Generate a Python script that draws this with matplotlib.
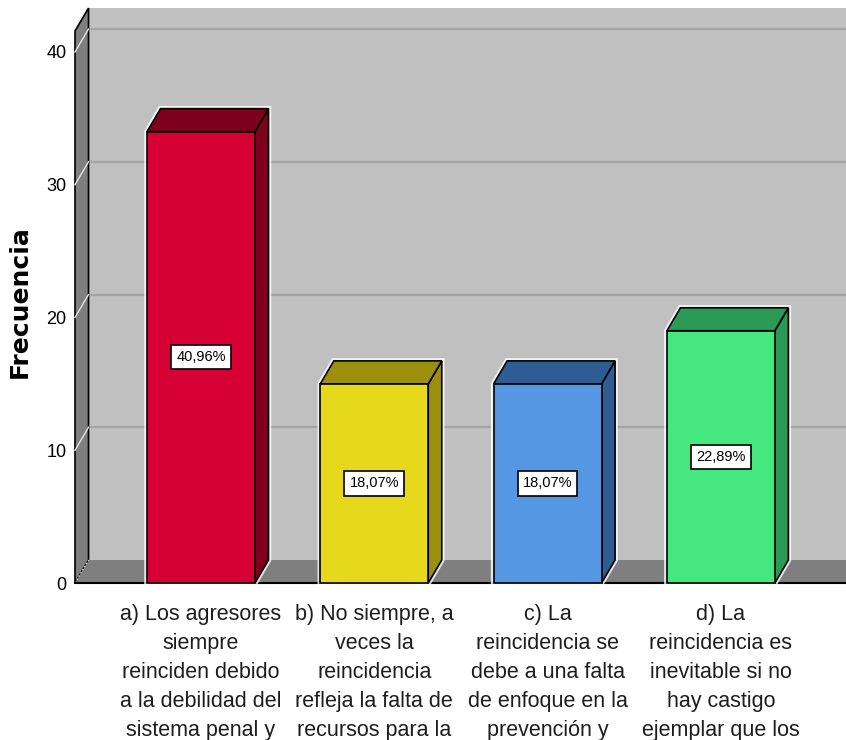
import matplotlib
matplotlib.use("Agg")
import matplotlib.pyplot as plt
from matplotlib.patches import Polygon

# data (frequencies, N = 83)
categorias = [
    "a) Los agresores\nsiempre\nreinciden debido\na la debilidad del\nsistema penal y",
    "b) No siempre, a\nveces la\nreincidencia\nrefleja la falta de\nrecursos para la",
    "c) La\nreincidencia se\ndebe a una falta\nde enfoque en la\nprevención y",
    "d) La\nreincidencia es\ninevitable si no\nhay castigo\nejemplar que los",
]
frecuencias = [34, 15, 15, 19]
porcentajes = ["40,96%", "18,07%", "18,07%", "22,89%"]
y_ticks = [0, 10, 20, 30, 40]

colores_frente = ["#d70035", "#e6d81a", "#5597e2", "#44e87e"]
colores_lado = ["#7e001e", "#9c8f0e", "#2f5c92", "#2a9a56"]

narrow = ["Liberation Sans", "DejaVu Sans"]

fig = plt.figure(figsize=(8.46, 7.40), dpi=100)
ax = fig.add_axes([75 / 846, 157 / 740, 758 / 846, 552 / 740])

xmin, xmax = -0.727, 3.647
ymax = 41.58
dx, dy = 0.078, 1.73   # depth offset of the 3D look
ancho = 0.623

ax.set_xlim(xmin, xmax)
ax.set_ylim(0, ymax)

# back wall
ax.add_patch(Polygon([(xmin + dx, dy), (xmax + dx, dy), (xmax + dx, ymax + dy), (xmin + dx, ymax + dy)],
                     closed=True, facecolor="#c0c0c0", edgecolor="none", clip_on=False, zorder=0))
# left wall
ax.add_patch(Polygon([(xmin, 0), (xmin + dx, dy), (xmin + dx, ymax + dy), (xmin, ymax)],
                     closed=True, facecolor="#7f7f7f", edgecolor="black", lw=1.2, clip_on=False, zorder=1))
# floor
ax.add_patch(Polygon([(xmin, 0), (xmax + dx, 0), (xmax + dx, dy), (xmin + dx, dy)],
                     closed=True, facecolor="#7f7f7f", edgecolor="none", clip_on=False, zorder=1))
ax.plot([xmin, xmax + dx], [0, 0], color="black", lw=1.5, clip_on=False, zorder=2)

for v in y_ticks:
    if v > 0:
        ax.plot([xmin + dx, xmax + dx], [v + dy, v + dy], color="#a4a4a4", lw=1.6, clip_on=False, zorder=0.5)
    ax.plot([xmin, xmin + dx], [v, v + dy], color="#e2e2e2", lw=1, clip_on=False, zorder=1.5,
            ls="-" if v > 0 else ":")

# 3D bars
for i, v in enumerate(frecuencias):
    x0, x1 = i - ancho / 2, i + ancho / 2
    silueta = [(x0, 0), (x0, v), (x0 + dx, v + dy), (x1 + dx, v + dy), (x1 + dx, dy), (x1, 0)]
    ax.add_patch(Polygon(silueta, closed=True, facecolor="none", edgecolor="white", lw=4,
                         alpha=0.8, clip_on=False, zorder=3))
    ax.add_patch(Polygon([(x1, 0), (x1 + dx, dy), (x1 + dx, v + dy), (x1, v)], closed=True,
                         facecolor=colores_lado[i], edgecolor="black", lw=1.2, clip_on=False, zorder=4))
    ax.add_patch(Polygon([(x0, v), (x0 + dx, v + dy), (x1 + dx, v + dy), (x1, v)], closed=True,
                         facecolor=colores_lado[i], edgecolor="black", lw=1.2, clip_on=False, zorder=4))
    ax.add_patch(Polygon([(x0, 0), (x1, 0), (x1, v), (x0, v)], closed=True,
                         facecolor=colores_frente[i], edgecolor="black", lw=1.2, clip_on=False, zorder=5))
    ax.text(i, v / 2, porcentajes[i], ha="center", va="center", fontsize=10.5, family=narrow, zorder=6,
            bbox=dict(boxstyle="square,pad=0.35", facecolor="white", edgecolor="black", lw=1.2))

for s in ax.spines.values():
    s.set_visible(False)
ax.set_yticks(y_ticks)
ax.set_yticklabels([str(t) for t in y_ticks], fontsize=13, family=narrow)
ax.set_xticks(range(len(categorias)))
ax.set_xticklabels(categorias, fontsize=15.5, family=narrow, color="#1e1e1e", linespacing=1.5)
ax.tick_params(axis="y", length=0, pad=6)
ax.tick_params(axis="x", length=0, pad=15)
ax.set_ylabel("Frecuencia", fontsize=18, fontweight="bold")
ax.yaxis.set_label_coords(-0.057, 0.51)

fig.savefig("out.png", dpi=100)
